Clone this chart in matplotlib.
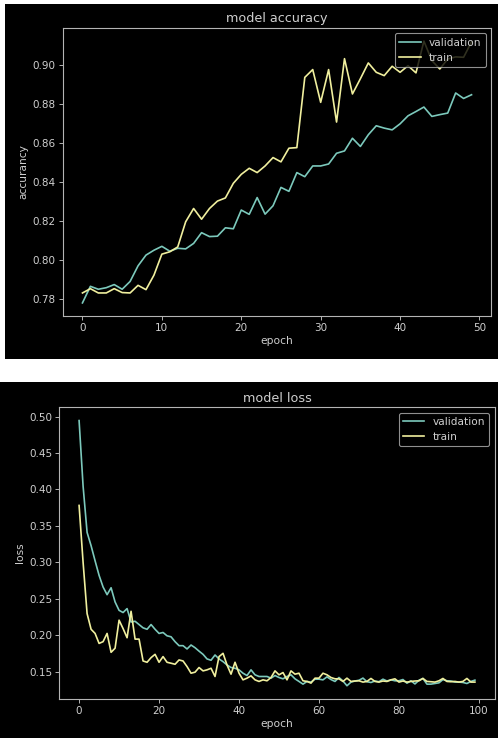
#!/usr/bin/env python3
"""Two dark training-history panels (accuracy / loss) stacked on a white page."""

import matplotlib

matplotlib.use("Agg")
import matplotlib.pyplot as plt
from matplotlib.patches import Rectangle
import numpy as np

ACC_VAL = [
    0.778, 0.7865, 0.785, 0.7858, 0.7874, 0.785, 0.789, 0.797, 0.8025, 0.805,
    0.807, 0.8045, 0.806, 0.8057, 0.8085, 0.814, 0.812, 0.8122, 0.8165, 0.816,
    0.8256, 0.8234, 0.832, 0.8235, 0.8278, 0.8372, 0.8352, 0.8448, 0.8427, 0.8482,
    0.8482, 0.8492, 0.8547, 0.8559, 0.8624, 0.8582, 0.8642, 0.8688, 0.8676, 0.8667,
    0.8698, 0.8739, 0.8761, 0.8784, 0.8736, 0.8745, 0.8753, 0.8856, 0.8828, 0.8847,
]
ACC_TRAIN = [
    0.7831, 0.7853, 0.7831, 0.7831, 0.7853, 0.7833, 0.7831, 0.787, 0.7848, 0.7922,
    0.803, 0.8042, 0.8067, 0.8196, 0.8264, 0.8209, 0.8264, 0.8302, 0.8318, 0.8393,
    0.8439, 0.847, 0.8448, 0.8482, 0.8525, 0.8503, 0.8573, 0.8576, 0.8936, 0.8976,
    0.8808, 0.8976, 0.8707, 0.9032, 0.8851, 0.8929, 0.901, 0.8962, 0.8945, 0.8993,
    0.8962, 0.8996, 0.8959, 0.9122, 0.9022, 0.8979, 0.9030, 0.9041, 0.9039, 0.9118,
]

LOSS_VAL = [
    0.4945, 0.4045, 0.341, 0.3227, 0.302, 0.282, 0.266, 0.2555, 0.265, 0.2455,
    0.234, 0.231, 0.2364, 0.218, 0.219, 0.2145, 0.21, 0.208, 0.2145, 0.208,
    0.2023, 0.2036, 0.199, 0.1977, 0.191, 0.1855, 0.1855, 0.181, 0.1864, 0.1827,
    0.178, 0.1736, 0.1673, 0.1655, 0.1727, 0.1673, 0.1636, 0.159, 0.1555, 0.1545,
    0.1523, 0.1477, 0.1445, 0.1523, 0.1455, 0.1432, 0.1432, 0.1432, 0.1409, 0.1445,
    0.1418, 0.14, 0.1432, 0.1455, 0.14, 0.1364, 0.1327, 0.1364, 0.1355, 0.1395,
    0.1395, 0.1386, 0.1427, 0.139, 0.1364, 0.1418, 0.137, 0.1305, 0.1355, 0.137,
    0.138, 0.141, 0.136, 0.135, 0.137, 0.136, 0.1395, 0.137, 0.1386, 0.1373,
    0.1373, 0.139, 0.134, 0.1373, 0.133, 0.138, 0.1405, 0.1327, 0.1327, 0.1336,
    0.1345, 0.139, 0.1373, 0.137, 0.1355, 0.1355, 0.135, 0.1336, 0.1364, 0.1382,
]
LOSS_TRAIN = [
    0.378, 0.30, 0.2295, 0.208, 0.2023, 0.1886, 0.191, 0.2023, 0.1764, 0.182,
    0.2205, 0.209, 0.1964, 0.2327, 0.1945, 0.1945, 0.1645, 0.1627, 0.1691, 0.1736,
    0.1627, 0.1705, 0.1627, 0.1614, 0.16, 0.1659, 0.1645, 0.1568, 0.1477, 0.1491,
    0.1555, 0.1509, 0.1523, 0.1545, 0.1432, 0.1705, 0.175, 0.159, 0.1464, 0.1627,
    0.1477, 0.1386, 0.1409, 0.1441, 0.1386, 0.1364, 0.1386, 0.1373, 0.1418, 0.1509,
    0.1455, 0.1486, 0.1386, 0.1509, 0.1464, 0.1477, 0.1373, 0.1364, 0.1341, 0.1409,
    0.1409, 0.1477, 0.1455, 0.1418, 0.14, 0.14, 0.1364, 0.1409, 0.1364, 0.137,
    0.1373, 0.1355, 0.1364, 0.1405, 0.1364, 0.1355, 0.137, 0.1364, 0.1386, 0.14,
    0.1355, 0.137, 0.1355, 0.1364, 0.137, 0.1373, 0.1405, 0.1364, 0.136, 0.1355,
    0.1373, 0.1405, 0.1364, 0.136, 0.1364, 0.1355, 0.1364, 0.1405, 0.1355, 0.1355,
]

VAL_COLOR = "#7cc9bc"
TRAIN_COLOR = "#f0ef9e"
FRAME = "#b4b4b4"
TEXT = "#cfcfcf"

W, H = 498, 738


def px_box(left, top, right, bottom):
    return [left / W, 1 - bottom / H, (right - left) / W, (bottom - top) / H]


def draw_panel(fig, box, val, train, title, ylabel, xticks):
    ax = fig.add_axes(px_box(*box))
    ax.set_zorder(2)
    ax.set_facecolor("black")
    epochs = np.arange(len(val))
    ax.plot(epochs, val, color=VAL_COLOR, linewidth=1.2, label="validation")
    ax.plot(epochs, train, color=TRAIN_COLOR, linewidth=1.2, label="train")
    ax.set_xticks(xticks)
    ax.set_title(title, fontsize=9.2, color=TEXT, pad=4)
    ax.set_xlabel("epoch", fontsize=7.7, color=TEXT, labelpad=2)
    ax.set_ylabel(ylabel, fontsize=7.7, color=TEXT, labelpad=3)
    for spine in ax.spines.values():
        spine.set_color(FRAME)
        spine.set_linewidth(0.8)
    ax.tick_params(colors=FRAME, labelcolor=TEXT, labelsize=7.5, length=2.7, width=0.7, pad=2.5)
    leg = ax.legend(loc="upper right", fontsize=7.6, facecolor="black", edgecolor=FRAME,
                    framealpha=0.8, fancybox=True, handlelength=2.0)
    for t in leg.get_texts():
        t.set_color(TEXT)
    leg.get_frame().set_linewidth(0.8)
    return ax


def main():
    fig = plt.figure(figsize=(W / 100, H / 100), dpi=100, facecolor="white")
    # the two black screenshot panels, kept behind the axes
    fig.add_artist(Rectangle((5 / W, 1 - 359 / H), 493 / W, 355 / H,
                             transform=fig.transFigure, facecolor="black",
                             edgecolor="none", zorder=-10))
    fig.add_artist(Rectangle((0, 0), 1, 1 - 382 / H,
                             transform=fig.transFigure, facecolor="black",
                             edgecolor="none", zorder=-10))

    draw_panel(fig, (63, 28, 491, 316), ACC_VAL, ACC_TRAIN,
               "model accuracy", "accurancy", [0, 10, 20, 30, 40, 50])
    draw_panel(fig, (59.3, 407.3, 494.7, 699), LOSS_VAL, LOSS_TRAIN,
               "model loss", "loss", [0, 20, 40, 60, 80, 100])

    fig.savefig("out.png", dpi=100, facecolor="white")
    plt.close(fig)


if __name__ == "__main__":
    main()
